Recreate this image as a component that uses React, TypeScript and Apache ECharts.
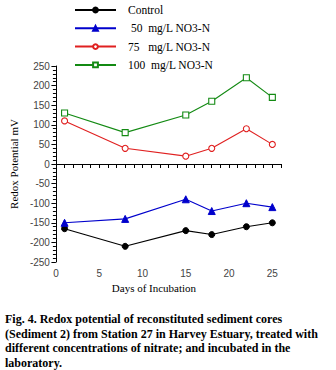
import React, { useEffect, useRef } from "react";
import * as echarts from "echarts";

const days = [1, 8, 15, 18, 22, 25];
const control = [-165, -210, -170, -180, -160, -150];
const n50 = [-150, -140, -90, -120, -100, -110];
const n75 = [110, 40, 20, 40, 90, 50];
const n100 = [130, 80, 125, 160, 220, 170];
const seriesNames = ["Control", " 50  mg/L NO3-N", "75   mg/L NO3-N", "100  mg/L NO3-N"];
const captionLines = [
  "Fig. 4. Redox potential of reconstituted sediment cores",
  "(Sediment 2) from Station 27 in Harvey Estuary, treated with",
  "different concentrations of nitrate; and incubated in the",
  "laboratory.",
];

const pairs = (ys: number[]) => days.map((d, i) => [d, ys[i]]);

export default function App() {
  const ref = useRef<HTMLDivElement>(null);
  useEffect(() => {
    if (!ref.current) return;
    const chart = echarts.init(ref.current, null, { renderer: "svg" });
    const serif = "Liberation Serif";
    const lineBase = (name: string, data: number[][], color: string, symbol: string, size: number, filled: boolean) => ({
      name,
      type: "line",
      data,
      symbol,
      symbolSize: size,
      showSymbol: true,
      clip: false,
      lineStyle: { color, width: 1.1 },
      itemStyle: filled
        ? { color, borderColor: color, borderWidth: 1 }
        : { color: "#ffffff", borderColor: color, borderWidth: 1.1 },
      emphasis: { disabled: true },
    });
    const s0: any = lineBase(seriesNames[0], pairs(control), "#000000", "circle", 6, true);
    s0.markLine = {
      silent: true,
      symbol: "none",
      label: { show: false },
      lineStyle: { color: "#000", type: "dotted", width: 1 },
      data: [[{ coord: [0, 0] }, { coord: [28.7, 0] }]],
    };
    chart.setOption({
      animation: false,
      backgroundColor: "#ffffff",
      grid: { left: 48, right: 55, top: 66, bottom: 108 },
      legend: {
        orient: "vertical",
        left: 74,
        top: 4,
        padding: 0,
        itemWidth: 41,
        itemHeight: 6,
        itemGap: 6.3,
        textStyle: { fontFamily: serif, fontSize: 11.5, color: "#000", padding: [0, 0, 0, 7] },
        data: seriesNames,
      },
      xAxis: {
        type: "value",
        min: 0,
        max: 26,
        interval: 1,
        name: "Days of Incubation",
        nameLocation: "middle",
        nameGap: 19,
        nameTextStyle: { fontFamily: serif, fontSize: 11, color: "#000", padding: [0, 29, 0, 0] },
        axisLine: { lineStyle: { color: "#000", width: 1 } },
        axisTick: { show: true, length: 4, lineStyle: { color: "#000" } },
        axisLabel: {
          formatter: (v: number) => (v % 5 === 0 && v <= 25 ? String(v) : ""),
          fontFamily: "Liberation Sans",
          fontSize: 10,
          color: "#444",
          margin: 6,
        },
        splitLine: { show: false },
      },
      yAxis: {
        type: "value",
        min: -250,
        max: 250,
        interval: 50,
        name: "Redox Potential mV",
        nameLocation: "middle",
        nameGap: 33,
        nameRotate: 90,
        nameTextStyle: { fontFamily: serif, fontSize: 11, color: "#000" },
        axisLine: { show: true, lineStyle: { color: "#000", width: 1 } },
        axisTick: { show: true, length: 4.5, lineStyle: { color: "#000" } },
        minorTick: { show: true, splitNumber: 5, length: 3, lineStyle: { color: "#000", width: 1 } },
        axisLabel: { fontFamily: "Liberation Sans", fontSize: 10, color: "#444", margin: 6 },
        splitLine: { show: false },
      },
      series: [
        s0,
        lineBase(seriesNames[1], pairs(n50), "#0000cc", "triangle", 7, true),
        lineBase(seriesNames[2], pairs(n75), "#e02020", "circle", 6, false),
        lineBase(seriesNames[3], pairs(n100), "#138a13", "rect", 6, false),
      ],
      graphic: captionLines.map((t, i) => ({
        type: "text",
        left: 5,
        top: 313 + i * 14.5,
        style: { text: t, fontFamily: serif, fontSize: 12, fontWeight: "bold", fill: "#000" },
      })),
    });
    return () => chart.dispose();
  }, []);
  return <div ref={ref} style={{ position: "absolute", left: 0, top: 0, width: 336, height: 370 }} />;
}
